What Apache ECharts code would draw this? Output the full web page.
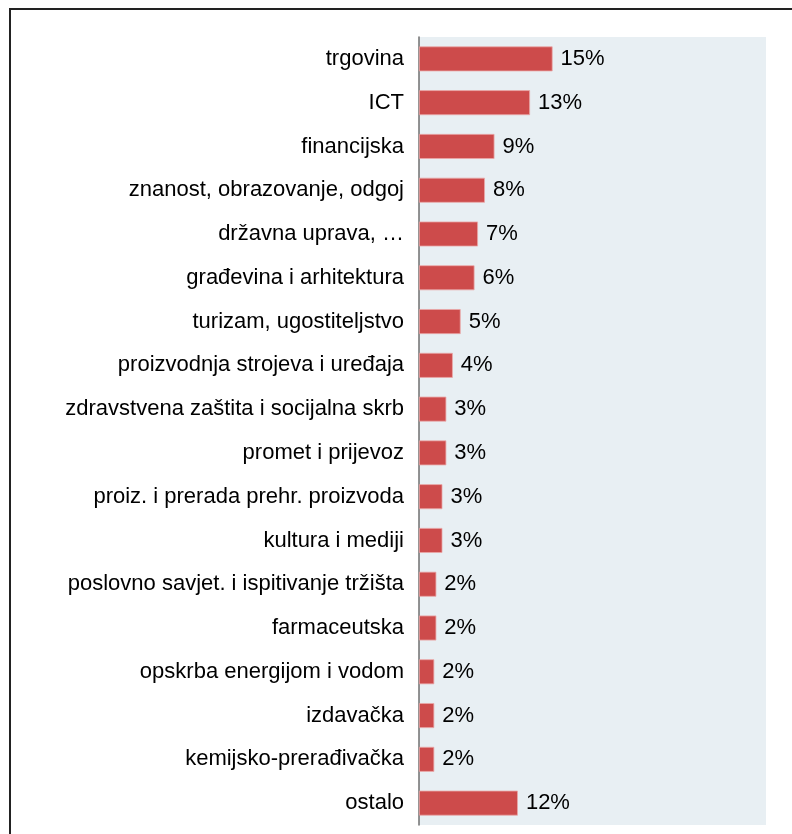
<!DOCTYPE html>
<html>
<head>
<meta charset="utf-8">
<script src="https://cdn.jsdelivr.net/npm/echarts@6/dist/echarts.min.js"></script>
<style>
  html, body { margin: 0; padding: 0; background: #fff; }
  #chart { width: 792px; height: 834px; }
</style>
</head>
<body>
<div id="chart"></div>
<script>
// categories, top to bottom
const categories = [
  'trgovina', 'ICT', 'financijska', 'znanost, obrazovanje, odgoj',
  'državna uprava, …', 'građevina i arhitektura', 'turizam, ugostiteljstvo',
  'proizvodnja strojeva i uređaja', 'zdravstvena zaštita i socijalna skrb',
  'promet i prijevoz', 'proiz. i prerada prehr. proizvoda', 'kultura i mediji',
  'poslovno savjet. i ispitivanje tržišta', 'farmaceutska',
  'opskrba energijom i vodom', 'izdavačka', 'kemijsko-prerađivačka', 'ostalo'
];
// share in %
const shares = [15.4, 12.8, 8.7, 7.6, 6.8, 6.4, 4.8, 3.9, 3.15, 3.15, 2.7, 2.7, 2.0, 2.0, 1.76, 1.76, 1.76, 11.4];
// labels as printed on the chart
const shareLabels = ['15%', '13%', '9%', '8%', '7%', '6%', '5%', '4%', '3%', '3%', '3%', '3%', '2%', '2%', '2%', '2%', '2%', '12%'];

const chart = echarts.init(document.getElementById('chart'));

const font = 'Liberation Sans, Arial, sans-serif';

chart.setOption({
  animation: false,
  grid: {
    left: 419, right: 26, top: 37, bottom: 9,
    show: true, backgroundColor: '#e8eff3', borderWidth: 0
  },
  xAxis: {
    type: 'value', min: 0, max: 40, show: false
  },
  yAxis: {
    type: 'category',
    inverse: true,
    data: categories,
    axisLine: { lineStyle: { color: '#6f6f6f', width: 1.5 } },
    axisTick: { length: 5, lineStyle: { color: '#333', width: 1.5 } },
    axisLabel: { margin: 15, fontSize: 22, color: '#000', fontFamily: font }
  },
  series: [{
    type: 'bar',
    data: shares,
    barCategoryGap: '43%',
    itemStyle: { color: '#cd4b4b', borderColor: '#eaa8a8', borderWidth: 0.8 },
    label: {
      show: true, position: 'right', distance: 8,
      fontSize: 22, color: '#000', fontFamily: font,
      formatter: p => shareLabels[p.dataIndex]
    }
  }],
  graphic: [{
    type: 'rect',
    shape: { x: 10, y: 9, width: 800, height: 840 },
    style: { fill: 'none', stroke: '#222', lineWidth: 2 },
    silent: true
  }]
});
</script>
</body>
</html>
